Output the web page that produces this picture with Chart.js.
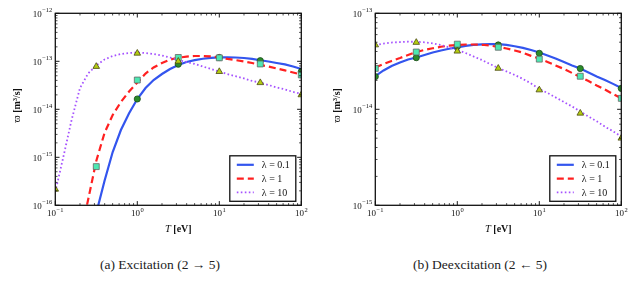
<!DOCTYPE html>
<html><head><meta charset="utf-8">
<script src="https://cdn.jsdelivr.net/npm/chart.js@4"></script>
<style>
html,body{margin:0;padding:0;background:#fff;width:641px;height:284px;overflow:hidden;}
canvas{position:absolute;top:0;}
#cA{left:0;} #cB{left:320px;}
.cap{position:absolute;top:257px;width:320px;text-align:center;font-family:"Liberation Serif",serif;font-size:13.5px;line-height:16px;color:#222;white-space:nowrap;}
</style></head><body>
<canvas id="cA" width="320" height="240"></canvas>
<canvas id="cB" width="321" height="240"></canvas>
<div class="cap" id="capA" style="left:0"></div>
<div class="cap" id="capB" style="left:320px"></div>
<script>
// ---- data ----
const T = [0.1,0.126,0.158,0.2,0.251,0.316,0.398,0.501,0.631,0.794,1,1.26,1.58,2,2.51,3.16,3.98,5.01,6.31,7.94,10,12.6,15.8,20,25.1,31.6,39.8,50.1,63.1,79.4,100];
const excL01 = [null,null,null,null,null,6.9e-17,3.2e-16,1.29e-15,3.7e-15,8.3e-15,1.64e-14,2.78e-14,4.07e-14,5.43e-14,6.9e-14,8.4e-14,9.7e-14,1.06e-13,1.13e-13,1.18e-13,1.21e-13,1.21e-13,1.2e-13,1.17e-13,1.12e-13,1.05e-13,9.9e-14,9.2e-14,8.6e-14,7.8e-14,6.9e-14];
const excL1 = [null,null,null,2.2e-17,1.29e-16,8.4e-16,3.2e-15,7.6e-15,1.42e-14,2.35e-14,3.61e-14,5.57e-14,7.43e-14,9.2e-14,1.08e-13,1.19e-13,1.25e-13,1.29e-13,1.29e-13,1.26e-13,1.21e-13,1.12e-13,1.06e-13,9.9e-14,9.2e-14,8.4e-14,7.8e-14,7.1e-14,6.45e-14,5.85e-14,5.3e-14];
const excL10 = [1.9e-16,1.06e-15,5.99e-15,2.78e-14,5.57e-14,8.2e-14,1.09e-13,1.29e-13,1.42e-13,1.49e-13,1.52e-13,1.49e-13,1.42e-13,1.32e-13,1.2e-13,1.06e-13,9.7e-14,8.8e-14,7.8e-14,6.9e-14,6.1e-14,5.4e-14,4.9e-14,4.4e-14,3.9e-14,3.6e-14,3.2e-14,2.85e-14,2.6e-14,2.3e-14,2.1e-14];
const deexL01 = [2.22e-14,2.54e-14,2.83e-14,3.07e-14,3.3e-14,3.46e-14,3.68e-14,3.91e-14,4.1e-14,4.27e-14,4.42e-14,4.57e-14,4.68e-14,4.75e-14,4.79e-14,4.77e-14,4.68e-14,4.54e-14,4.37e-14,4.15e-14,3.91e-14,3.63e-14,3.38e-14,3.11e-14,2.86e-14,2.66e-14,2.42e-14,2.2e-14,2.02e-14,1.84e-14,1.67e-14];
const deexL1 = [2.72e-14,2.96e-14,3.19e-14,3.42e-14,3.68e-14,3.95e-14,4.15e-14,4.32e-14,4.48e-14,4.6e-14,4.68e-14,4.73e-14,4.73e-14,4.7e-14,4.62e-14,4.46e-14,4.3e-14,4.1e-14,3.89e-14,3.6e-14,3.38e-14,3.11e-14,2.86e-14,2.63e-14,2.39e-14,2.17e-14,1.97e-14,1.77e-14,1.61e-14,1.44e-14,1.3e-14];
const deexL10 = [4.68e-14,4.84e-14,4.96e-14,5.02e-14,5.06e-14,5.05e-14,4.99e-14,4.87e-14,4.68e-14,4.42e-14,4.15e-14,3.86e-14,3.55e-14,3.26e-14,2.96e-14,2.69e-14,2.48e-14,2.28e-14,2.07e-14,1.86e-14,1.63e-14,1.48e-14,1.33e-14,1.19e-14,1.07e-14,9.5e-15,8.4e-15,7.5e-15,6.6e-15,5.9e-15,5.2e-15];
const Tpts = [0.1,0.316,1,3.16,10,31.6,100];
const excPts01 = [null,null,1.64e-14,8.7e-14,1.2e-13,1.03e-13,6.07e-14];
const excPts1 = [null,6.4e-16,4.07e-14,1.2e-13,1.18e-13,8.8e-14,5.2e-14];
const excPts10 = [2.16e-16,7.8e-14,1.47e-13,1.0e-13,6.1e-14,3.58e-14,2.0e-14];
const deexPts01 = [2.19e-14,3.45e-14,4.5e-14,4.68e-14,3.83e-14,2.66e-14,1.65e-14];
const deexPts1 = [2.67e-14,3.95e-14,4.77e-14,4.43e-14,3.33e-14,2.21e-14,1.3e-14];
const deexPts10 = [4.68e-14,4.97e-14,4.03e-14,2.67e-14,1.59e-14,9.1e-15,5.0e-15];
const legendLabels = ['λ = 0.1','λ = 1','λ = 10'];
const xTickVals = [0.1,1,10,100];
const xTickExp = ['−1','0','1','2'];
const yTickValsA = [1e-16,1e-15,1e-14,1e-13,1e-12];
const yTickExpA = ['−16','−15','−14','−13','−12'];
const yTickValsB = [1e-15,1e-14,1e-13];
const yTickExpB = ['−15','−14','−13'];
const xTitle = ['T',' [eV]'];
const yTitle = ['ϖ',' [m³/s]'];
const captions = ['(a) Excitation (2 → 5)','(b) Deexcitation (2 ← 5)'];

// ---- styles ----
const FONT = '"Liberation Serif", serif';
const C_BLUE = '#3355ee', C_RED = '#ff2020', C_PURPLE = '#a552ff';

function pts(xs, ys){ return xs.map((x,i)=>({x:x,y:ys[i]})); }

function datasets(l01,l1,l10,p01,p1,p10){
  return [
    {data:pts(Tpts,p10),showLine:false,pointStyle:'triangle',pointRadius:3.8,backgroundColor:'#b4cc12',borderColor:'#4a4a10',borderWidth:0.8,order:0,clip:0},
    {data:pts(Tpts,p1),showLine:false,pointStyle:'rect',pointRadius:4.2,backgroundColor:'#4de8b2',borderColor:'#666',borderWidth:0.8,order:1,clip:0},
    {data:pts(Tpts,p01),showLine:false,pointStyle:'circle',pointRadius:3.1,backgroundColor:'#2a8c2a',borderColor:'#1a4a1a',borderWidth:0.8,order:2,clip:0},
    {data:pts(T,l10),borderColor:C_PURPLE,borderWidth:1.8,borderDash:[1.6,2.4],pointRadius:0,tension:0,order:3,clip:0,fill:false},
    {data:pts(T,l1),borderColor:C_RED,borderWidth:2.2,borderDash:[7,4],pointRadius:0,tension:0,order:4,clip:0,fill:false},
    {data:pts(T,l01),borderColor:C_BLUE,borderWidth:2.2,pointRadius:0,tension:0,order:5,clip:0,fill:false}
  ];
}

function minorVals(min,max){
  const out=[]; 
  for(let d=Math.round(Math.log10(min)); d<Math.round(Math.log10(max)); d++){
    for(let m=2;m<=9;m++) out.push(m*Math.pow(10,d));
  }
  return out;
}

function powLabel(ctx, exp, x, y, align){
  ctx.font = '9px '+FONT;
  const wb = ctx.measureText('10').width;
  ctx.font = '6.5px '+FONT;
  const we = ctx.measureText(exp).width;
  const w = wb + we + 0.5;
  let x0 = align==='center' ? x - w/2 : x - w;
  ctx.textAlign='left'; ctx.textBaseline='alphabetic';
  ctx.font = '9px '+FONT; ctx.fillText('10', x0, y);
  ctx.font = '6.5px '+FONT; ctx.fillText(exp, x0+wb+0.5, y-4.5);
}

const framePlugin = {
  id:'frame',
  afterDatasetsDraw(chart){
    const cfg = chart.options.plugins.frame;
    const {ctx, chartArea:a} = chart;
    const xs = chart.scales.x, ys = chart.scales.y;
    ctx.save();
    ctx.strokeStyle='#000'; ctx.fillStyle='#111';
    // minor ticks
    ctx.lineWidth=0.7;
    ctx.beginPath();
    minorVals(xs.min,xs.max).forEach(v=>{const p=xs.getPixelForValue(v);
      ctx.moveTo(p,a.bottom); ctx.lineTo(p,a.bottom-2.2); ctx.moveTo(p,a.top); ctx.lineTo(p,a.top+2.2);});
    minorVals(ys.min,ys.max).forEach(v=>{const p=ys.getPixelForValue(v);
      ctx.moveTo(a.left,p); ctx.lineTo(a.left+2.2,p); ctx.moveTo(a.right,p); ctx.lineTo(a.right-2.2,p);});
    ctx.stroke();
    ctx.lineWidth=0.9;
    ctx.beginPath();
    xTickVals.forEach(v=>{const p=xs.getPixelForValue(v);
      ctx.moveTo(p,a.bottom); ctx.lineTo(p,a.bottom-4.2); ctx.moveTo(p,a.top); ctx.lineTo(p,a.top+4.2);});
    cfg.yVals.forEach(v=>{const p=ys.getPixelForValue(v);
      ctx.moveTo(a.left,p); ctx.lineTo(a.left+4.2,p); ctx.moveTo(a.right,p); ctx.lineTo(a.right-4.2,p);});
    ctx.stroke();
    // frame
    ctx.lineWidth=1.3; ctx.strokeStyle='#111';
    ctx.strokeRect(a.left,a.top,a.right-a.left,a.bottom-a.top);
    // tick labels
    xTickVals.forEach((v,i)=>powLabel(ctx, xTickExp[i], xs.getPixelForValue(v), a.bottom+11, 'center'));
    cfg.yVals.forEach((v,i)=>powLabel(ctx, cfg.yExp[i], a.left-3, ys.getPixelForValue(v)+3.3, 'right'));
    // x title
    const cx=(a.left+a.right)/2;
    ctx.font='italic 10.5px '+FONT; const w1=ctx.measureText(xTitle[0]).width;
    ctx.font='bold 10px '+FONT; const w2=ctx.measureText(xTitle[1]).width;
    let x0=cx-(w1+w2)/2;
    ctx.textAlign='left';
    ctx.font='italic 10.5px '+FONT; ctx.fillText(xTitle[0],x0,a.bottom+26.5);
    ctx.font='bold 10px '+FONT; ctx.fillText(xTitle[1],x0+w1,a.bottom+26.5);
    // y title
    ctx.save();
    ctx.translate(19.5,(a.top+a.bottom)/2-4);
    ctx.rotate(-Math.PI/2);
    ctx.font='11px '+FONT; const v1=ctx.measureText(yTitle[0]).width;
    ctx.font='bold 10px '+FONT; const v2=ctx.measureText(yTitle[1]).width;
    let y0=-(v1+v2)/2;
    ctx.font='11px '+FONT; ctx.fillText(yTitle[0],y0,0);
    ctx.font='bold 10px '+FONT; ctx.fillText(yTitle[1],y0+v1,0);
    ctx.restore();
    // legend
    const bw=66, bh=45.5, bx=a.right-5.5-bw, by=a.bottom-4-bh;
    ctx.fillStyle='#fff'; ctx.fillRect(bx,by,bw,bh);
    ctx.lineWidth=1.3; ctx.strokeStyle='#111'; ctx.strokeRect(bx,by,bw,bh);
    const lines=[chart.data.datasets[5],chart.data.datasets[4],chart.data.datasets[3]];
    lines.forEach((ds,i)=>{
      const ry=by+9+i*13.8;
      ctx.save();
      ctx.strokeStyle=ds.borderColor; ctx.lineWidth=ds.borderWidth;
      ctx.setLineDash(ds.borderDash||[]);
      ctx.beginPath(); ctx.moveTo(bx+7,ry); ctx.lineTo(bx+24,ry); ctx.stroke();
      ctx.restore();
      ctx.fillStyle='#111'; ctx.font='10px '+FONT; ctx.textAlign='left'; ctx.textBaseline='middle';
      ctx.fillText(legendLabels[i], bx+32, ry+0.5);
      ctx.textBaseline='alphabetic';
    });
    ctx.restore();
  }
};

function makeChart(id, yMin, yMax, yVals, yExp, ds, padRight){
  return new Chart(document.getElementById(id), {
    type:'line',
    data:{datasets:ds},
    options:{
      responsive:false, animation:false, events:[],
      layout:{padding:{left:55.3,right:padRight,top:13.3,bottom:34.7}},
      scales:{
        x:{type:'logarithmic',min:0.1,max:100,display:false},
        y:{type:'logarithmic',min:yMin,max:yMax,display:false}
      },
      plugins:{legend:{display:false},tooltip:{enabled:false},frame:{yVals:yVals,yExp:yExp}}
    },
    plugins:[framePlugin]
  });
}

makeChart('cA',1e-16,1e-12,yTickValsA,yTickExpA,datasets(excL01,excL1,excL10,excPts01,excPts1,excPts10),18.7);
makeChart('cB',1e-15,1e-13,yTickValsB,yTickExpB,datasets(deexL01,deexL1,deexL10,deexPts01,deexPts1,deexPts10),19.7);
document.getElementById('capA').textContent=captions[0];
document.getElementById('capB').textContent=captions[1];
</script>
</body></html>
